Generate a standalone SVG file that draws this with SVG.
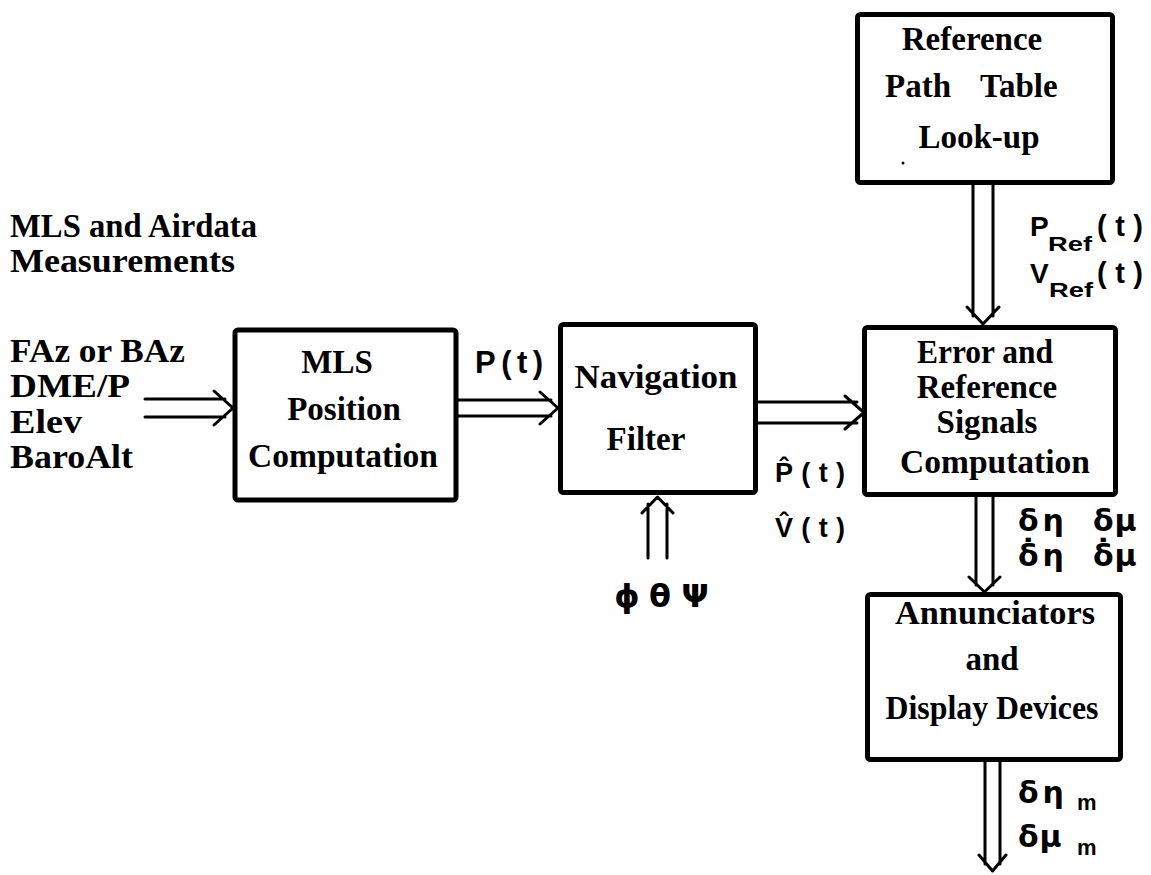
<svg xmlns="http://www.w3.org/2000/svg" width="1151" height="875" viewBox="0 0 1151 875">
<style>
.box{fill:#fff;stroke:#000;stroke-width:5;stroke-linejoin:round}
.bt{font-family:"Liberation Serif","Times New Roman",serif;font-weight:bold;font-size:33px;fill:#000}
.c{text-anchor:middle}
.ln{fill:none;stroke:#000;stroke-width:3;stroke-linecap:round;stroke-linejoin:round}
.sym{font-family:"Liberation Sans",Arial,sans-serif;font-weight:bold;font-size:28px;fill:#000}
.gr{font-family:"DejaVu Sans","Liberation Sans",sans-serif;font-weight:bold;font-size:30px;fill:#000}
.sub{font-family:"Liberation Sans",Arial,sans-serif;font-weight:bold;font-size:22px;fill:#000}
</style>
<rect width="1151" height="875" fill="#fff"/>

<g id="labels-inputs">
<text class="bt" x="10" y="237" textLength="247" lengthAdjust="spacingAndGlyphs">MLS and Airdata</text>
<text class="bt" x="10" y="272" textLength="225" lengthAdjust="spacingAndGlyphs">Measurements</text>
<text class="bt" x="10" y="362" textLength="175" lengthAdjust="spacingAndGlyphs">FAz or BAz</text>
<text class="bt" x="10" y="397" textLength="120" lengthAdjust="spacingAndGlyphs">DME/P</text>
<text class="bt" x="10" y="433" textLength="72" lengthAdjust="spacingAndGlyphs">Elev</text>
<text class="bt" x="10" y="468" textLength="123" lengthAdjust="spacingAndGlyphs">BaroAlt</text>
</g>

<g id="mls-position">
<rect class="box" x="235" y="330" width="221" height="170" rx="3"/>
<text class="bt c" x="337" y="373">MLS</text>
<text class="bt c" x="344" y="420">Position</text>
<text class="bt c" x="343" y="467" textLength="190" lengthAdjust="spacingAndGlyphs">Computation</text>
</g>

<g id="navigation-filter">
<rect class="box" x="560.5" y="324.5" width="195" height="168" rx="3"/>
<text class="bt c" x="656" y="388" textLength="163" lengthAdjust="spacingAndGlyphs">Navigation</text>
<text class="bt c" x="646" y="450">Filter</text>
</g>

<g id="reference-path">
<rect class="box" x="857.5" y="14.5" width="255" height="168" rx="3"/>
<text class="bt c" x="972" y="50">Reference</text>
<text class="bt" x="885" y="97">Path</text>
<text class="bt" x="980" y="97">Table</text>
<text class="bt c" x="979" y="148">Look-up</text>
<circle cx="903" cy="163" r="1.5" fill="#000"/>
</g>

<g id="error-reference">
<rect class="box" x="864.5" y="327.5" width="251" height="167" rx="3"/>
<text class="bt c" x="985" y="363" textLength="136" lengthAdjust="spacingAndGlyphs">Error and</text>
<text class="bt c" x="987" y="398">Reference</text>
<text class="bt c" x="987" y="433">Signals</text>
<text class="bt c" x="995" y="473" textLength="190" lengthAdjust="spacingAndGlyphs">Computation</text>
</g>

<g id="annunciators">
<rect class="box" x="867.5" y="594.5" width="253" height="165" rx="3"/>
<text class="bt c" x="995" y="624" textLength="200" lengthAdjust="spacingAndGlyphs">Annunciators</text>
<text class="bt c" x="992" y="670">and</text>
<text class="bt c" x="992" y="719" textLength="213" lengthAdjust="spacingAndGlyphs">Display Devices</text>
</g>

<g id="connectors">
<path class="ln" d="M145 399H225M145 417H225M214 391L233 408L214 425"/>
<path class="ln" d="M458 400H551M458 416H551M540 392L558 408L540 424"/>
<path class="ln" d="M758 402H857M758 423H857M845 396L864 412.5L845 429"/>
<path class="ln" d="M973 185V316M993 185V316M967 307L983 324L999 307"/>
<path class="ln" d="M976 497V585M993 497V585M969 577L984.5 592L1000 577"/>
<path class="ln" d="M985 762V864M1000 762V864M979 855L992.5 871L1006 855"/>
<path class="ln" d="M648 558V504M667 558V504M642 513L657.5 497L673 513"/>
</g>

<g id="signal-labels">
<text class="sym" x="475" y="373" style="font-size:31px" textLength="68" lengthAdjust="spacing">P(t)</text>
<text class="sym" x="775" y="482" style="font-size:27px" textLength="70" lengthAdjust="spacing">P̂(t)</text>
<text class="sym" x="775" y="537" style="font-size:27px" textLength="70" lengthAdjust="spacing">V̂(t)</text>

<text class="sym" x="1030" y="236">P</text>
<text class="sub" x="1048" y="251" style="font-size:21px" textLength="44" lengthAdjust="spacingAndGlyphs">Ref</text>
<text class="sym" x="1097" y="236" style="font-size:29px" textLength="46" lengthAdjust="spacing">(t)</text>
<text class="sym" x="1030" y="283">V</text>
<text class="sub" x="1049" y="297" style="font-size:21px" textLength="44" lengthAdjust="spacingAndGlyphs">Ref</text>
<text class="sym" x="1097" y="283" style="font-size:29px" textLength="46" lengthAdjust="spacing">(t)</text>

<text class="gr" x="627" y="607" text-anchor="middle" style="font-size:32px">ϕ</text>
<text class="gr" x="660" y="607" text-anchor="middle" style="font-size:32px">θ</text>
<text class="gr" x="695" y="607" text-anchor="middle" style="font-size:32px">Ψ</text>

<text class="gr" x="1018" y="531" letter-spacing="4">δη</text>
<text class="gr" x="1093" y="531" letter-spacing="1">δμ</text>
<text class="gr" x="1018" y="566" letter-spacing="4">δ̇η</text>
<text class="gr" x="1093" y="566" letter-spacing="1">δ̇μ</text>

<text class="gr" x="1018" y="803" letter-spacing="4">δη</text>
<text class="sub" x="1077" y="810">m</text>
<text class="gr" x="1018" y="847" letter-spacing="1">δμ</text>
<text class="sub" x="1077" y="855">m</text>
</g>
</svg>
